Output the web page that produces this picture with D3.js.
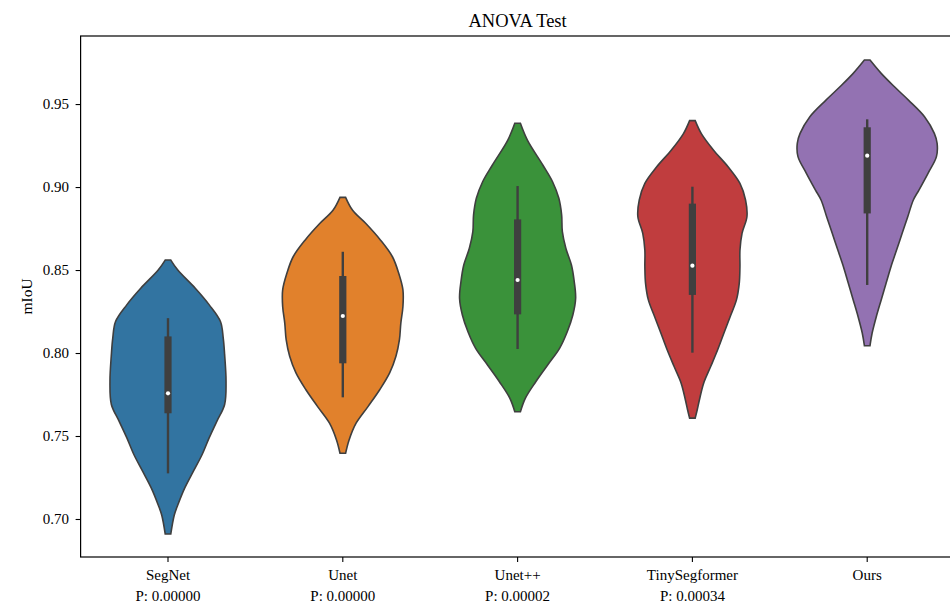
<!DOCTYPE html>
<meta charset="utf-8">
<script src="https://cdn.jsdelivr.net/npm/d3@7"></script>
<style>
body { margin: 0; background: #fff; }
#chart text { font-family: "Liberation Serif", "Times New Roman", serif; fill: #000; }
</style>
<div id="chart"></div>
<script>
// categories and p-values under the tick names
var categories = ["SegNet", "Unet", "Unet++", "TinySegformer", "Ours"];
var pValues = ["P: 0.00000", "P: 0.00000", "P: 0.00002", "P: 0.00034", ""];
var colors = ["#3274a1", "#e1812c", "#3a923a", "#c03d3e", "#9372b2"];

// box stats: whisker low, q1, median, q3, whisker high
var whiskerLo = [0.7275, 0.7733, 0.8024, 0.8002, 0.8410];
var q1 = [0.7637, 0.7938, 0.8233, 0.8350, 0.8841];
var median = [0.7757, 0.8223, 0.8440, 0.8526, 0.9189];
var q3 = [0.8100, 0.8464, 0.8805, 0.8900, 0.9360];
var whiskerHi = [0.8210, 0.8610, 0.9006, 0.9002, 0.9408];

// kde outlines: mIoU value and relative density (1 = widest violin)
var segnetKde = [[0.856,0.04],[0.850,0.14],[0.839,0.39],[0.829,0.59],[0.819,0.75],[0.809,0.79],[0.799,0.81],[0.783,0.83],[0.769,0.81],[0.759,0.70],[0.749,0.59],[0.739,0.49],[0.7285,0.36],[0.7187,0.24],[0.7084,0.14],[0.7024,0.09],[0.691,0.04]];
var unetKde = [[0.8938,0.04],[0.886,0.14],[0.878,0.33],[0.868,0.54],[0.858,0.71],[0.848,0.80],[0.838,0.86],[0.828,0.86],[0.818,0.83],[0.808,0.81],[0.798,0.76],[0.788,0.67],[0.778,0.53],[0.7677,0.36],[0.7577,0.19],[0.7476,0.09],[0.7396,0.04]];
var unetppKde = [[0.9384,0.04],[0.9283,0.14],[0.9133,0.36],[0.9032,0.50],[0.8932,0.59],[0.8831,0.63],[0.8731,0.64],[0.8631,0.69],[0.853,0.77],[0.843,0.81],[0.833,0.83],[0.8229,0.79],[0.8128,0.71],[0.8028,0.60],[0.7928,0.43],[0.7827,0.26],[0.7727,0.11],[0.7646,0.04]];
var tinyKde = [[0.940,0.04],[0.932,0.13],[0.9223,0.30],[0.9122,0.51],[0.9022,0.68],[0.8922,0.76],[0.8821,0.78],[0.8721,0.71],[0.862,0.68],[0.852,0.68],[0.842,0.67],[0.832,0.63],[0.8219,0.54],[0.8119,0.45],[0.8018,0.36],[0.7917,0.26],[0.7817,0.16],[0.7717,0.10],[0.766,0.07],[0.7608,0.04]];
var oursKde = [[0.9765,0.04],[0.9685,0.20],[0.9604,0.39],[0.9524,0.59],[0.9424,0.82],[0.9323,0.96],[0.9263,1.00],[0.9183,0.99],[0.9083,0.87],[0.8982,0.74],[0.8922,0.66],[0.8821,0.58],[0.8721,0.50],[0.862,0.42],[0.852,0.34],[0.842,0.27],[0.832,0.20],[0.8219,0.13],[0.8119,0.07],[0.8044,0.04]];
var kdes = [segnetKde, unetKde, unetppKde, tinyKde, oursKde];

var yTicks = [0.70, 0.75, 0.80, 0.85, 0.90, 0.95];

var W = 950, H = 605;
var plotLeft = 80.6, plotRight = 954.6, plotTop = 36, plotBottom = 557;

var svg = d3.select("#chart").append("svg")
    .attr("width", W)
    .attr("height", H);

var x = d3.scaleBand()
    .domain(categories)
    .range([plotLeft, plotRight])
    .padding(0);

var y = d3.scaleLinear()
    .domain([0.6771, 0.9910])
    .range([plotBottom, plotTop]);

// half width of a violin, seaborn width=0.8
var w = d3.scaleLinear()
    .domain([0, 1])
    .range([0, x.bandwidth() * 0.4]);

// violins
var violins = svg.append("g")
    .selectAll("g")
    .data(categories)
    .enter()
    .append("g");

violins.append("path")
    .attr("d", function(c, i) {
        var cx = x(c) + x.bandwidth() / 2;
        return d3.area()
            .y(function(d) { return y(d[0]); })
            .x0(function(d) { return cx - w(d[1]); })
            .x1(function(d) { return cx + w(d[1]); })
            .curve(d3.curveCatmullRom)(kdes[i]);
    })
    .attr("fill", function(c, i) { return colors[i]; })
    .attr("stroke", "#3f3f3f")
    .attr("stroke-width", 1.6);

// inner box
violins.append("line")
    .attr("x1", function(c) { return x(c) + x.bandwidth() / 2; })
    .attr("x2", function(c) { return x(c) + x.bandwidth() / 2; })
    .attr("y1", function(c, i) { return y(whiskerLo[i]); })
    .attr("y2", function(c, i) { return y(whiskerHi[i]); })
    .attr("stroke", "#3f3f3f")
    .attr("stroke-width", 2.4);

violins.append("rect")
    .attr("x", function(c) { return x(c) + x.bandwidth() / 2 - 3.6; })
    .attr("width", 7.2)
    .attr("y", function(c, i) { return y(q3[i]); })
    .attr("height", function(c, i) { return y(q1[i]) - y(q3[i]); })
    .attr("fill", "#3f3f3f");

violins.append("circle")
    .attr("cx", function(c) { return x(c) + x.bandwidth() / 2; })
    .attr("cy", function(c, i) { return y(median[i]); })
    .attr("r", 2.1)
    .attr("fill", "#fff");

// axes
var yAxis = svg.append("g")
    .attr("transform", "translate(" + plotLeft + ",0)")
    .call(d3.axisLeft(y).tickValues(yTicks).tickFormat(d3.format(".2f")).tickSize(5).tickPadding(6.7));
yAxis.select(".domain").remove();
yAxis.selectAll("line").attr("stroke", "#000").attr("stroke-width", 1.1);
yAxis.selectAll("text").attr("font-size", "15px");

var xAxis = svg.append("g")
    .attr("transform", "translate(0," + plotBottom + ")")
    .call(d3.axisBottom(x).tickSize(5).tickPadding(7.5));
xAxis.select(".domain").remove();
xAxis.selectAll("line").attr("stroke", "#000").attr("stroke-width", 1.1);
xAxis.selectAll("text")
    .attr("font-size", "15px")
    .each(function(c, i) {
        if (pValues[i]) {
            d3.select(this).append("tspan")
                .attr("x", 0)
                .attr("dy", "1.4em")
                .text(pValues[i]);
        }
    });

// frame
svg.append("rect")
    .attr("x", plotLeft)
    .attr("y", plotTop)
    .attr("width", plotRight - plotLeft)
    .attr("height", plotBottom - plotTop)
    .attr("fill", "none")
    .attr("stroke", "#000")
    .attr("stroke-width", 1.2);

svg.append("text")
    .attr("x", (plotLeft + plotRight) / 2)
    .attr("y", 27)
    .attr("text-anchor", "middle")
    .attr("font-size", "18.5px")
    .text("ANOVA Test");

svg.append("text")
    .attr("transform", "translate(32," + (plotTop + plotBottom) / 2 + ") rotate(-90)")
    .attr("text-anchor", "middle")
    .attr("font-size", "15.5px")
    .text("mIoU");
</script>
